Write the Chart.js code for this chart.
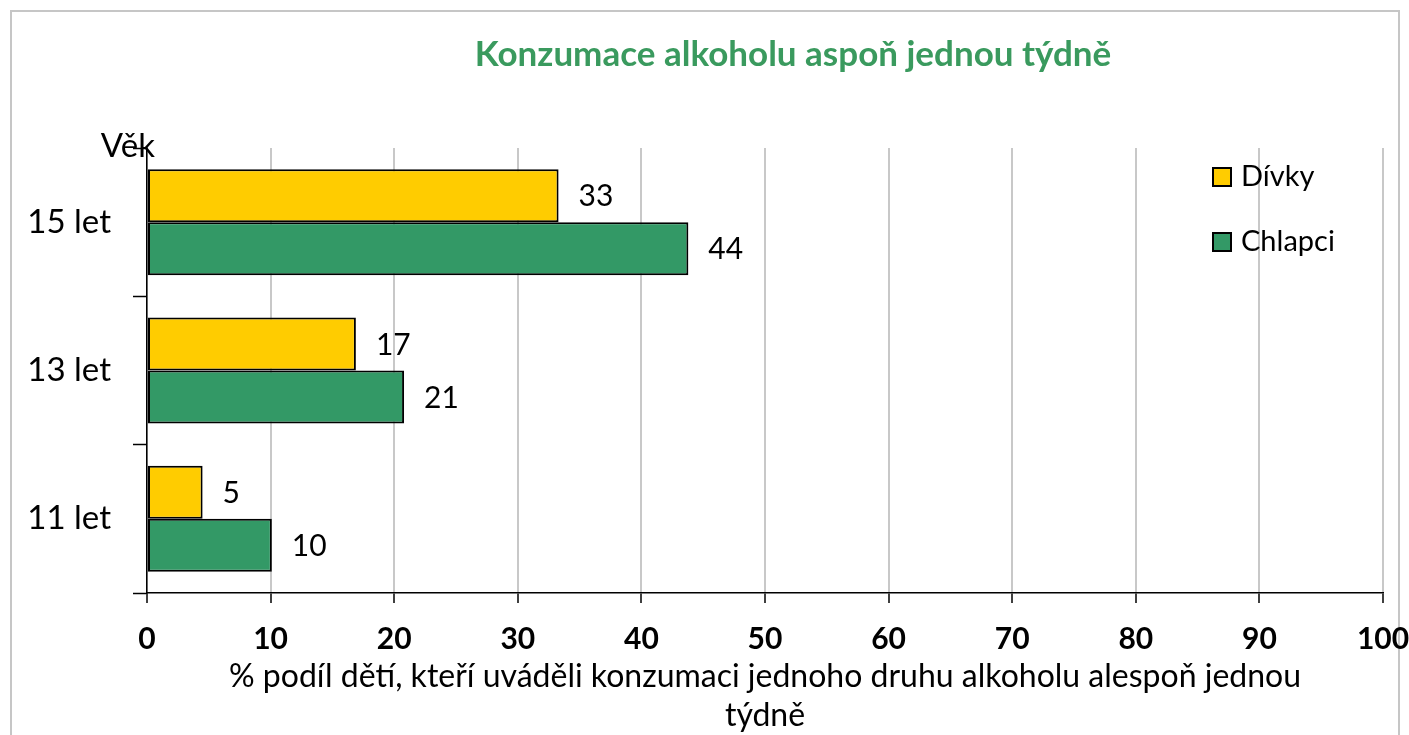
<!DOCTYPE html>
<html>
<head>
<meta charset="utf-8">
<script src="https://cdn.jsdelivr.net/npm/chart.js@4.4.1/dist/chart.umd.min.js"></script>
<style>
  html, body { margin: 0; padding: 0; background: #fff; }
  #wrap { width: 1409px; height: 735px; position: relative; }
</style>
</head>
<body>
<div id="wrap"><canvas id="chart"></canvas></div>
<script>
// data
const ageGroups = ['15 let', '13 let', '11 let'];
const girls = [33.3, 16.9, 4.5];
const boys = [43.8, 20.8, 10.1];
const seriesNames = ['Dívky', 'Chlapci'];
const seriesColors = ['#ffcc00', '#339966'];
const xMin = 0, xMax = 100, xStep = 10;

const chartTitle = 'Konzumace alkoholu aspoň jednou týdně';
const xTitle = ['% podíl dětí, kteří uváděli konzumaci jednoho druhu alkoholu alespoň jednou', 'týdně'];
const yTitle = 'Věk';

const FONT = 'Lato, "Open Sans", sans-serif';

const framePlugin = {
    id: 'frame',
    beforeDraw(chart) {
        const ctx = chart.ctx;
        ctx.save();
        ctx.fillStyle = '#fff';
        ctx.fillRect(0, 0, chart.width, chart.height);
        ctx.strokeStyle = '#c6c6c6';
        ctx.lineWidth = 2;
        ctx.strokeRect(11, 11, chart.width - 21, chart.height + 20);
        // chart title, centred a bit right of the plot like the original
        const area = chart.chartArea;
        ctx.font = 'bold 35px ' + FONT;
        ctx.fillStyle = '#3a9a5e';
        ctx.textAlign = 'center';
        ctx.textBaseline = 'middle';
        ctx.fillText(chartTitle, (area.left + area.right) / 2 + 28, 55);
        ctx.restore();
    }
};

const valueLabels = {
    id: 'valueLabels',
    afterDatasetsDraw(chart) {
        const ctx = chart.ctx;
        ctx.save();
        ctx.font = '30px ' + FONT;
        ctx.fillStyle = '#000';
        ctx.textAlign = 'left';
        ctx.textBaseline = 'middle';
        chart.data.datasets.forEach((ds, i) => {
            chart.getDatasetMeta(i).data.forEach((bar, j) => {
                ctx.fillText(String(Math.round(ds.data[j])), bar.x + 20, bar.y + 1);
            });
        });
        ctx.restore();
    }
};

const sideLegend = {
    id: 'sideLegend',
    afterDraw(chart) {
        const ctx = chart.ctx;
        const area = chart.chartArea;
        const x = area.right - 170;
        ctx.save();
        ctx.font = '29px ' + FONT;
        ctx.textBaseline = 'middle';
        ctx.textAlign = 'left';
        chart.data.datasets.forEach((ds, i) => {
            const y = area.top + 29 + i * 65;
            ctx.fillStyle = ds.backgroundColor;
            ctx.fillRect(x, y - 9, 18, 18);
            ctx.strokeStyle = '#000';
            ctx.lineWidth = 2;
            ctx.strokeRect(x, y - 9, 18, 18);
            ctx.fillStyle = '#000';
            ctx.fillText(ds.label, x + 28, y);
        });
        // axis name at the top of the category axis
        ctx.font = '33px ' + FONT;
        ctx.textAlign = 'right';
        ctx.fillText(yTitle, area.left + 8, area.top - 2);
        ctx.restore();
    }
};

new Chart(document.getElementById('chart'), {
    type: 'bar',
    data: {
        labels: ageGroups,
        datasets: [
            { label: seriesNames[0], data: girls, backgroundColor: seriesColors[0] },
            { label: seriesNames[1], data: boys, backgroundColor: seriesColors[1] }
        ]
    },
    options: {
        indexAxis: 'y',
        responsive: true,
        maintainAspectRatio: false,
        animation: false,
        layout: { padding: { left: 0, right: 26, top: 148, bottom: 0 } },
        datasets: {
            bar: {
                borderColor: '#000',
                borderWidth: 2,
                borderSkipped: false,
                categoryPercentage: 0.715,
                barPercentage: 1.0
            }
        },
        plugins: {
            legend: { display: false },
            tooltip: { enabled: false },
            title: { display: false }
        },
        scales: {
            x: {
                min: xMin,
                max: xMax,
                ticks: {
                    stepSize: xStep,
                    color: '#000',
                    padding: 18,
                    font: { family: FONT, size: 30, weight: 'bold' }
                },
                grid: {
                    color: '#c8c8c8',
                    lineWidth: 2,
                    tickColor: '#000',
                    tickLength: 10,
                    tickWidth: 1.5
                },
                border: { color: '#000', width: 1.5 },
                title: {
                    display: true,
                    text: xTitle,
                    color: '#000',
                    font: { family: FONT, size: 32, lineHeight: '39px' },
                    padding: { top: 0, bottom: 0 }
                },
                afterFit(scale) {
                    scale.height = 142;
                    // let the "100" label hang past the plot like in the original
                    scale.paddingLeft = 0;
                    scale.paddingRight = 0;
                }
            },
            y: {
                ticks: {
                    color: '#000',
                    padding: 22,
                    font: { family: FONT, size: 33 }
                },
                grid: {
                    drawOnChartArea: false,
                    tickColor: '#000',
                    tickLength: 14,
                    tickWidth: 1.5,
                    offset: true
                },
                border: { color: '#000', width: 1.5 },
                afterFit(scale) { scale.width = 147; }
            }
        }
    },
    plugins: [framePlugin, valueLabels, sideLegend]
});
</script>
</body>
</html>
